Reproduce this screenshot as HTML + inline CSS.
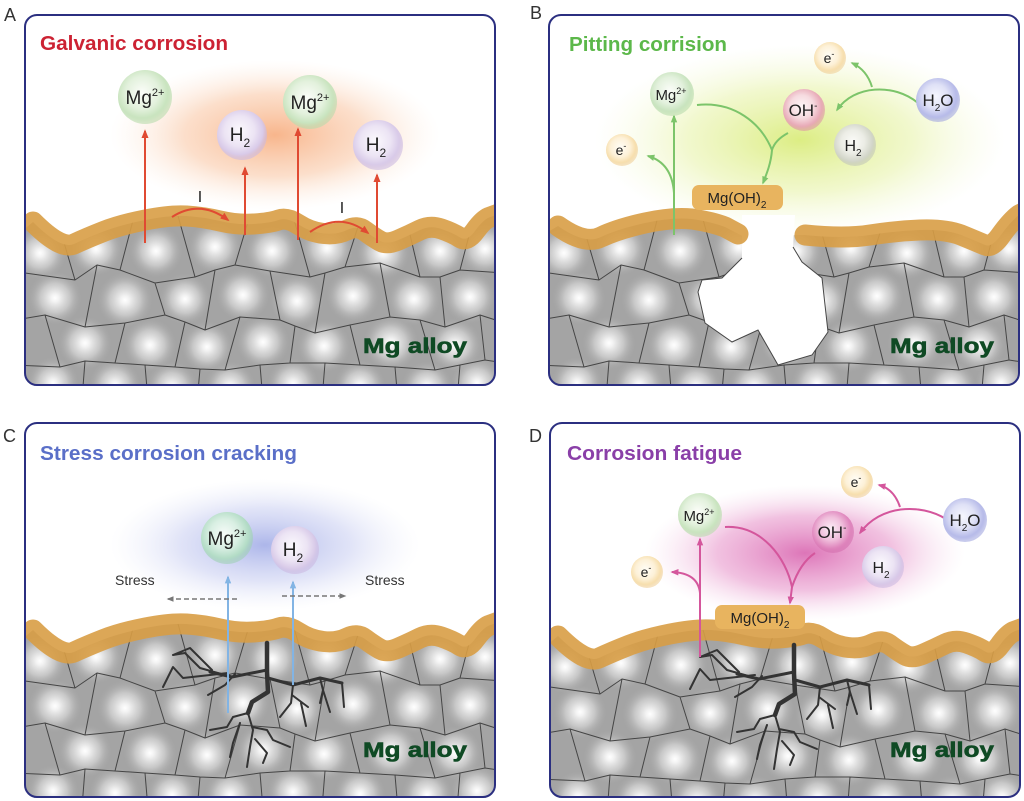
<!DOCTYPE html>
<html><head><meta charset="utf-8"><style>
html,body{margin:0;padding:0;background:#fff;}
svg{display:block;}
text{font-family:"Liberation Sans",Arial,sans-serif;}
</style></head><body>
<svg width="1024" height="801" viewBox="0 0 1024 801" xmlns="http://www.w3.org/2000/svg" xmlns:xlink="http://www.w3.org/1999/xlink">
<defs>
 <radialGradient id="hl" cx="0.5" cy="0.5" r="0.5">
  <stop offset="0" stop-color="#ffffff" stop-opacity="1"/>
  <stop offset="0.15" stop-color="#f2f2f2" stop-opacity="1"/>
  <stop offset="0.55" stop-color="#cdcdcd" stop-opacity="0.85"/>
  <stop offset="1" stop-color="#a8a8a8" stop-opacity="0"/>
 </radialGradient>
 <radialGradient id="glA"><stop offset="0" stop-color="#f6a36f" stop-opacity="0.8"/><stop offset="0.55" stop-color="#f9c4a0" stop-opacity="0.55"/><stop offset="1" stop-color="#fde8d8" stop-opacity="0"/></radialGradient>
 <radialGradient id="glB"><stop offset="0" stop-color="#d6ea6e" stop-opacity="0.85"/><stop offset="0.55" stop-color="#e6f2a4" stop-opacity="0.55"/><stop offset="1" stop-color="#f2f8d0" stop-opacity="0"/></radialGradient>
 <radialGradient id="glC"><stop offset="0" stop-color="#9ea9e6" stop-opacity="0.85"/><stop offset="0.55" stop-color="#c2c8f0" stop-opacity="0.5"/><stop offset="1" stop-color="#e4e7f8" stop-opacity="0"/></radialGradient>
 <radialGradient id="glD"><stop offset="0" stop-color="#d966b0" stop-opacity="0.9"/><stop offset="0.55" stop-color="#e898cc" stop-opacity="0.6"/><stop offset="1" stop-color="#f5d6ea" stop-opacity="0"/></radialGradient>

 <radialGradient id="gMg" cx="0.45" cy="0.42" r="0.55"><stop offset="0" stop-color="#fbfdf9"/><stop offset="0.55" stop-color="#e3f1dd"/><stop offset="0.85" stop-color="#c9e4bf"/><stop offset="1" stop-color="#b8dbac" stop-opacity="0.6"/></radialGradient>
 <radialGradient id="gH" cx="0.45" cy="0.42" r="0.55"><stop offset="0" stop-color="#fbf9fd"/><stop offset="0.55" stop-color="#ece4f4"/><stop offset="0.85" stop-color="#d9cbe9"/><stop offset="1" stop-color="#cbb9e1" stop-opacity="0.6"/></radialGradient>
 <radialGradient id="gE" cx="0.45" cy="0.42" r="0.55"><stop offset="0" stop-color="#fffdf6"/><stop offset="0.55" stop-color="#fdf1d8"/><stop offset="0.85" stop-color="#f7dfae"/><stop offset="1" stop-color="#f0d098" stop-opacity="0.6"/></radialGradient>
 <radialGradient id="gOH" cx="0.45" cy="0.42" r="0.55"><stop offset="0" stop-color="#fdf6f7"/><stop offset="0.5" stop-color="#f6dbe0"/><stop offset="0.85" stop-color="#e8aab7"/><stop offset="1" stop-color="#de94a4" stop-opacity="0.6"/></radialGradient>
 <radialGradient id="gOHd" cx="0.45" cy="0.42" r="0.55"><stop offset="0" stop-color="#fbeef6"/><stop offset="0.5" stop-color="#f0bfdc"/><stop offset="0.85" stop-color="#df86bd"/><stop offset="1" stop-color="#d46fae" stop-opacity="0.6"/></radialGradient>
 <radialGradient id="gW" cx="0.45" cy="0.42" r="0.55"><stop offset="0" stop-color="#f6f7fe"/><stop offset="0.5" stop-color="#dfe1f6"/><stop offset="0.85" stop-color="#b7bbe9"/><stop offset="1" stop-color="#a2a7e0" stop-opacity="0.6"/></radialGradient>
 <radialGradient id="gH2b" cx="0.45" cy="0.42" r="0.55"><stop offset="0" stop-color="#fbfbf8"/><stop offset="0.5" stop-color="#ecede6"/><stop offset="0.85" stop-color="#d2d5c9"/><stop offset="1" stop-color="#c2c6b8" stop-opacity="0.6"/></radialGradient>
 <radialGradient id="gMgC" cx="0.45" cy="0.42" r="0.55"><stop offset="0" stop-color="#f6fbf8"/><stop offset="0.5" stop-color="#d9efe3"/><stop offset="0.85" stop-color="#b3dcc6"/><stop offset="1" stop-color="#9fd0b5" stop-opacity="0.6"/></radialGradient>

 <marker id="mR" viewBox="0 0 10 10" refX="8" refY="5" markerWidth="9" markerHeight="9" markerUnits="userSpaceOnUse" orient="auto"><path d="M0,1 L10,5 L0,9 z" fill="#e04a32"/></marker>
 <marker id="mG" viewBox="0 0 10 10" refX="8" refY="5" markerWidth="8" markerHeight="8" markerUnits="userSpaceOnUse" orient="auto"><path d="M0,1 L10,5 L0,9 z" fill="#7cc46a"/></marker>
 <marker id="mBl" viewBox="0 0 10 10" refX="8" refY="5" markerWidth="8" markerHeight="8" markerUnits="userSpaceOnUse" orient="auto"><path d="M0,1 L10,5 L0,9 z" fill="#82b4e4"/></marker>
 <marker id="mP" viewBox="0 0 10 10" refX="8" refY="5" markerWidth="8" markerHeight="8" markerUnits="userSpaceOnUse" orient="auto"><path d="M0,1 L10,5 L0,9 z" fill="#d4569c"/></marker>
 <marker id="mGr" viewBox="0 0 10 10" refX="8" refY="5" markerWidth="7" markerHeight="7" markerUnits="userSpaceOnUse" orient="auto"><path d="M0,1 L10,5 L0,9 z" fill="#777"/></marker>

 <clipPath id="cp370"><rect x="0" y="0" width="470" height="370" rx="12"/></clipPath>
 <clipPath id="cp374"><rect x="0" y="0" width="470" height="374" rx="12"/></clipPath>
 <clipPath id="alloyA"><path d="M-10,222 L8,207 Q36,235 49,229 Q62,223 78.5,216.5 Q95,210 120,205 Q145,200 161.5,201 Q178,202 195,206 Q212,210 228.5,209 Q245,208 253.5,205 Q262,202 273.5,209.5 Q285,217 298.5,218.5 Q312,220 322,215 Q332,210 340,216 Q348,222 355,226 Q362,230 373.5,225 Q385,220 395,215 Q405,210 416.5,214 Q428,218 435,222.5 Q442,227 450,216 Q458,205 464,202.5 L482,196 L482,410 L-10,410 Z"/></clipPath>
 <clipPath id="alloyB"><path d="M-10,222 L9,211 Q36,230 52,222 Q69,214 96,208 Q123,202 143,204 Q163,207 176,212 L195,222 L255,220 Q296,224 321,220 Q346,216 371,215 Q396,214 412,220 Q429,227 436,230 Q443,233 452,220 Q462,206 470,200 L482,194 L482,410 L-10,410 Z"/></clipPath>

 <path id="surfA" d="M8,207 Q36,235 49,229 Q62,223 78.5,216.5 Q95,210 120,205 Q145,200 161.5,201 Q178,202 195,206 Q212,210 228.5,209 Q245,208 253.5,205 Q262,202 273.5,209.5 Q285,217 298.5,218.5 Q312,220 322,215 Q332,210 340,216 Q348,222 355,226 Q362,230 373.5,225 Q385,220 395,215 Q405,210 416.5,214 Q428,218 435,222.5 Q442,227 450,216 Q458,205 464,202.5 L482,196"/>

 <g id="grains">
  <rect x="-10" y="170" width="500" height="240" fill="#a4a4a4"/>
  <g fill="url(#hl)">
   <circle cx="15" cy="238" r="27"/><circle cx="71" cy="234" r="27"/><circle cx="131" cy="236" r="27"/><circle cx="190" cy="232" r="27"/><circle cx="247" cy="236" r="27"/><circle cx="302" cy="233" r="27"/><circle cx="358" cy="238" r="27"/><circle cx="415" cy="236" r="27"/><circle cx="460" cy="234" r="27"/>
   <circle cx="30" cy="283" r="27"/><circle cx="100" cy="285" r="28"/><circle cx="160" cy="284" r="26"/><circle cx="218" cy="280" r="27"/><circle cx="272" cy="286" r="27"/><circle cx="328" cy="281" r="27"/><circle cx="389" cy="284" r="27"/><circle cx="445" cy="282" r="27"/>
   <circle cx="60" cy="328" r="27"/><circle cx="125" cy="330" r="27"/><circle cx="182" cy="332" r="26"/><circle cx="238" cy="327" r="27"/><circle cx="299" cy="331" r="27"/><circle cx="366" cy="328" r="28"/><circle cx="430" cy="330" r="27"/>
   <circle cx="28" cy="368" r="26"/><circle cx="90" cy="370" r="26"/><circle cx="147" cy="372" r="26"/><circle cx="205" cy="372" r="26"/><circle cx="268" cy="369" r="26"/><circle cx="335" cy="371" r="26"/><circle cx="402" cy="372" r="26"/><circle cx="452" cy="368" r="26"/>
  </g>
  <path fill="none" stroke="#454545" stroke-width="1" stroke-linejoin="round" d="M-10,258 L0,258 L50,265 L72,250 L95,255 L130,268 L170,262 L190,255 L210,250 L245,256 L285,262 L300,258 L320,252 L355,248 L395,262 L415,262 L435,255 L480,258 M28,190 L50,265 M112,190 L95,255 M150,190 L170,262 M228,190 L210,250 M265,190 L285,262 M340,190 L320,252 M378,190 L395,262 M452,190 L435,255 M72,250 L60,312 M130,268 L140,300 M190,255 L180,315 M245,256 L255,305 M300,258 L290,318 M355,248 L365,302 M415,262 L420,312 M-10,305 L20,300 L60,312 L100,308 L140,300 L160,307 L180,315 L215,302 L255,305 L270,311 L290,318 L325,310 L365,302 L395,305 L420,312 L455,300 L480,308 M20,300 L35,352 M100,308 L90,348 M160,307 L150,352 M215,302 L200,355 M270,311 L265,348 M325,310 L335,350 M395,305 L410,355 M455,300 L460,345 M-10,350 L35,352 L60,346 L90,348 L120,350 L150,352 L175,354 L200,355 L235,350 L265,348 L300,348 L335,350 L370,352 L410,355 L435,350 L460,345 L480,348 M60,346 L55,410 M120,350 L125,410 M175,354 L170,410 M235,350 L240,410 M300,348 L295,410 M370,352 L375,410 M435,350 L430,410"/>
 </g>

 <g id="crack" fill="none" stroke="#333" stroke-linecap="round" stroke-linejoin="round">
  <path stroke-width="4.5" d="M242,220 L242,249 L243,269 L227,279 L223,290"/>
  <path stroke-width="3" d="M242,247 L207,254 L185,249 M243,255 L268,262 L295,255 L317,260"/>
  <path stroke-width="2" d="M207,254 L175,245 L160,230 L148,232 M187,247 L165,225 L148,232 M203,250 L158,255 L148,244 L138,264 M210,251 L200,262 L183,272 M268,262 L266,280 L255,294 M267,272 L283,284 M276,280 L281,303 M295,255 L298,267 L295,280 M298,267 L305,289 M317,260 L319,284 M223,290 L208,294 L202,304 L185,307 M223,290 L228,307 L225,324 L222,344 M227,304 L242,307 L248,317 L265,324 M215,300 L208,320 L205,334 M230,316 L242,330 L238,340"/>
 </g>
</defs>

<rect width="1024" height="801" fill="#fff"/>

<text x="4" y="21" font-size="18" fill="#333">A</text>
<text x="530" y="19" font-size="18" fill="#333">B</text>
<text x="3" y="442" font-size="18" fill="#333">C</text>
<text x="529" y="442" font-size="18" fill="#333">D</text>

<!-- PANEL A -->
<g transform="translate(25,15)">
 <rect width="470" height="370" rx="12" fill="#fff"/>
 <g clip-path="url(#cp370)">
  <ellipse cx="250" cy="120" rx="165" ry="75" fill="url(#glA)"/>
  <g clip-path="url(#alloyA)"><use xlink:href="#grains" href="#grains"/></g>
  <use xlink:href="#surfA" href="#surfA" fill="none" stroke="#d89d45" stroke-opacity="0.9" stroke-width="21" stroke-linecap="round" stroke-linejoin="round"/>
  <g stroke="#e04a32" stroke-width="2" fill="none">
   <path d="M120,228 L120,116" marker-end="url(#mR)"/>
   <path d="M220,220 L220,153" marker-end="url(#mR)"/>
   <path d="M273,225 L273,114" marker-end="url(#mR)"/>
   <path d="M352,228 L352,160" marker-end="url(#mR)"/>
   <path d="M147,202 Q175,184 203,205" marker-end="url(#mR)"/>
   <path d="M285,217 Q315,196 343,218" marker-end="url(#mR)"/>
  </g>
  <text x="175" y="187" font-size="16" fill="#222" text-anchor="middle">I</text>
  <text x="317" y="198" font-size="16" fill="#222" text-anchor="middle">I</text>
  <circle cx="120" cy="82" r="27" fill="url(#gMg)"/>
  <circle cx="217" cy="120" r="25" fill="url(#gH)"/>
  <circle cx="285" cy="87" r="27" fill="url(#gMg)"/>
  <circle cx="353" cy="130" r="25" fill="url(#gH)"/>
  <g font-size="19" fill="#222" text-anchor="middle">
   <text x="120" y="89">Mg<tspan dy="-8" font-size="11">2+</tspan></text>
   <text x="285" y="94">Mg<tspan dy="-8" font-size="11">2+</tspan></text>
   <text x="215" y="126">H<tspan dy="6" font-size="12">2</tspan></text>
   <text x="351" y="136">H<tspan dy="6" font-size="12">2</tspan></text>
  </g>
  <text x="15" y="35" font-size="20" font-weight="bold" fill="#cc2233" textLength="188" lengthAdjust="spacingAndGlyphs">Galvanic corrosion</text>
  <text x="338" y="338" font-size="21" font-weight="bold" fill="#0f4a24" stroke="#0f4a24" stroke-width="0.6" textLength="104" lengthAdjust="spacingAndGlyphs">Mg alloy</text>
 </g>
 <rect x="0" y="0" width="470" height="370" rx="12" fill="none" stroke="#2b2f80" stroke-width="2"/>
</g>

<!-- PANEL B -->
<g transform="translate(549,15)">
 <rect width="470" height="370" rx="12" fill="#fff"/>
 <g clip-path="url(#cp370)">
  <ellipse cx="251" cy="125" rx="205" ry="95" fill="url(#glB)"/>
  <g clip-path="url(#alloyB)"><use xlink:href="#grains" href="#grains"/></g>
  <path d="M193,200 L193,243 L173,263 L153,265 L149,277 L156,308 L183,327 L209,315 L229,350 L263,340 L279,317 L273,263 L253,247 L244,232 L246,200 Z" fill="#fff"/>
  <path d="M193,243 L173,263 L153,265 L149,277 L156,308 L183,327 L209,315 L229,350 L263,340 L279,317 L273,263 L253,247 L244,232" fill="none" stroke="#454545" stroke-width="1"/>
  <g fill="none" stroke="#d89d45" stroke-opacity="0.9" stroke-width="21" stroke-linecap="round" stroke-linejoin="round">
   <path d="M9,211 Q36,230 52,222 Q69,214 96,208 Q123,202 143,204 Q163,207 176,212 L189,219"/>
   <path d="M256,220 Q296,224 321,220 Q346,216 371,215 Q396,214 412,220 Q429,227 436,230 Q443,233 452,220 Q462,206 470,200 L482,194"/>
  </g>
  <g stroke="#7cc46a" stroke-width="2" fill="none">
   <path d="M125,220 L125,101" marker-end="url(#mG)"/>
   <path d="M125,178 Q123,148 99,141" marker-end="url(#mG)"/>
   <path d="M148,90 C185,86 212,108 223,135 C222,148 218,158 214,168" marker-end="url(#mG)"/>
   <path d="M239,118 Q226,125 223,135"/>
   <path d="M369,88 C345,68 305,70 288,95" marker-end="url(#mG)"/>
   <path d="M323,72 Q318,55 303,48" marker-end="url(#mG)"/>
  </g>
  <circle cx="123" cy="79" r="22" fill="url(#gMg)"/>
  <circle cx="73" cy="135" r="16" fill="url(#gE)"/>
  <circle cx="281" cy="43" r="16" fill="url(#gE)"/>
  <circle cx="255" cy="95" r="21" fill="url(#gOH)"/>
  <circle cx="389" cy="85" r="22" fill="url(#gW)"/>
  <circle cx="306" cy="130" r="21" fill="url(#gH2b)"/>
  <rect x="143" y="170" width="91" height="25" rx="7" fill="#e8b45f"/>
  <g fill="#222" text-anchor="middle">
   <text x="122" y="85" font-size="15">Mg<tspan dy="-6" font-size="9">2+</tspan></text>
   <text x="72" y="140" font-size="14">e<tspan dy="-6" font-size="9">-</tspan></text>
   <text x="280" y="48" font-size="14">e<tspan dy="-6" font-size="9">-</tspan></text>
   <text x="254" y="101" font-size="17">OH<tspan dy="-7" font-size="10">-</tspan></text>
   <text x="389" y="91" font-size="17">H<tspan dy="5" font-size="10">2</tspan><tspan dy="-5">O</tspan></text>
   <text x="304" y="136" font-size="16">H<tspan dy="5" font-size="10">2</tspan></text>
   <text x="188" y="188" font-size="15">Mg(OH)<tspan dy="5" font-size="10">2</tspan></text>
  </g>
  <text x="20" y="36" font-size="20" font-weight="bold" fill="#5cb84a" textLength="158" lengthAdjust="spacingAndGlyphs">Pitting corrision</text>
  <text x="341" y="338" font-size="21" font-weight="bold" fill="#0f4a24" stroke="#0f4a24" stroke-width="0.6" textLength="104" lengthAdjust="spacingAndGlyphs">Mg alloy</text>
 </g>
 <rect x="0" y="0" width="470" height="370" rx="12" fill="none" stroke="#2b2f80" stroke-width="2"/>
</g>

<!-- PANEL C -->
<g transform="translate(25,423)">
 <rect width="470" height="374" rx="12" fill="#fff"/>
 <g clip-path="url(#cp374)">
  <ellipse cx="240" cy="122" rx="155" ry="66" fill="url(#glC)"/>
  <g clip-path="url(#alloyA)"><use xlink:href="#grains" href="#grains"/></g>
  <use xlink:href="#surfA" href="#surfA" fill="none" stroke="#d89d45" stroke-opacity="0.9" stroke-width="21" stroke-linecap="round" stroke-linejoin="round"/>
  <use xlink:href="#crack" href="#crack"/>
  <g stroke="#82b4e4" stroke-width="2" fill="none">
   <path d="M203,290 L203,154" marker-end="url(#mBl)"/>
   <path d="M268,262 L268,159" marker-end="url(#mBl)"/>
  </g>
  <g stroke="#777" stroke-width="1.5" fill="none" stroke-dasharray="5 3">
   <path d="M212,176 L143,176" marker-end="url(#mGr)"/>
   <path d="M257,173 L320,173" marker-end="url(#mGr)"/>
  </g>
  <circle cx="202" cy="115" r="26" fill="url(#gMgC)"/>
  <circle cx="270" cy="127" r="24" fill="url(#gH)"/>
  <g fill="#222" text-anchor="middle">
   <text x="202" y="122" font-size="19">Mg<tspan dy="-8" font-size="11">2+</tspan></text>
   <text x="268" y="133" font-size="19">H<tspan dy="6" font-size="12">2</tspan></text>
  </g>
  <text x="90" y="162" font-size="14" fill="#333">Stress</text>
  <text x="340" y="162" font-size="14" fill="#333">Stress</text>
  <text x="15" y="37" font-size="20" font-weight="bold" fill="#5a6fc8" textLength="257" lengthAdjust="spacingAndGlyphs">Stress corrosion cracking</text>
  <text x="338" y="334" font-size="21" font-weight="bold" fill="#0f4a24" stroke="#0f4a24" stroke-width="0.6" textLength="104" lengthAdjust="spacingAndGlyphs">Mg alloy</text>
 </g>
 <rect x="0" y="0" width="470" height="374" rx="12" fill="none" stroke="#2b2f80" stroke-width="2"/>
</g>

<!-- PANEL D -->
<g transform="translate(550,423)">
 <rect width="470" height="374" rx="12" fill="#fff"/>
 <g clip-path="url(#cp374)">
  <ellipse cx="255" cy="130" rx="160" ry="68" fill="url(#glD)"/>
  <g transform="translate(0,6)">
   <g clip-path="url(#alloyA)"><use xlink:href="#grains" href="#grains"/></g>
   <use xlink:href="#surfA" href="#surfA" fill="none" stroke="#d89d45" stroke-opacity="0.9" stroke-width="21" stroke-linecap="round" stroke-linejoin="round"/>
  </g>
  <g transform="translate(2,2)"><use xlink:href="#crack" href="#crack"/></g>
  <g stroke="#d4569c" stroke-width="2" fill="none">
   <path d="M150,234 L150,116" marker-end="url(#mP)"/>
   <path d="M150,170 Q148,150 122,149" marker-end="url(#mP)"/>
   <path d="M175,104 C212,102 236,135 242,164 L240,180" marker-end="url(#mP)"/>
   <path d="M265,130 Q250,140 242,164"/>
   <path d="M396,96 C370,80 330,82 310,110" marker-end="url(#mP)"/>
   <path d="M350,84 Q344,66 329,62" marker-end="url(#mP)"/>
  </g>
  <circle cx="150" cy="92" r="22" fill="url(#gMg)"/>
  <circle cx="97" cy="149" r="16" fill="url(#gE)"/>
  <circle cx="307" cy="59" r="16" fill="url(#gE)"/>
  <circle cx="283" cy="109" r="21" fill="url(#gOHd)"/>
  <circle cx="415" cy="97" r="22" fill="url(#gW)"/>
  <circle cx="333" cy="144" r="21" fill="url(#gH)"/>
  <rect x="165" y="182" width="90" height="24" rx="7" fill="#e8b45f"/>
  <g fill="#222" text-anchor="middle">
   <text x="149" y="98" font-size="15">Mg<tspan dy="-6" font-size="9">2+</tspan></text>
   <text x="96" y="154" font-size="14">e<tspan dy="-6" font-size="9">-</tspan></text>
   <text x="306" y="64" font-size="14">e<tspan dy="-6" font-size="9">-</tspan></text>
   <text x="282" y="115" font-size="17">OH<tspan dy="-7" font-size="10">-</tspan></text>
   <text x="415" y="103" font-size="17">H<tspan dy="5" font-size="10">2</tspan><tspan dy="-5">O</tspan></text>
   <text x="331" y="150" font-size="16">H<tspan dy="5" font-size="10">2</tspan></text>
   <text x="210" y="200" font-size="15">Mg(OH)<tspan dy="5" font-size="10">2</tspan></text>
  </g>
  <text x="17" y="37" font-size="20" font-weight="bold" fill="#8a3fa8" textLength="175" lengthAdjust="spacingAndGlyphs">Corrosion fatigue</text>
  <text x="340" y="334" font-size="21" font-weight="bold" fill="#0f4a24" stroke="#0f4a24" stroke-width="0.6" textLength="104" lengthAdjust="spacingAndGlyphs">Mg alloy</text>
 </g>
 <rect x="0" y="0" width="470" height="374" rx="12" fill="none" stroke="#2b2f80" stroke-width="2"/>
</g>
</svg>
</body></html>
